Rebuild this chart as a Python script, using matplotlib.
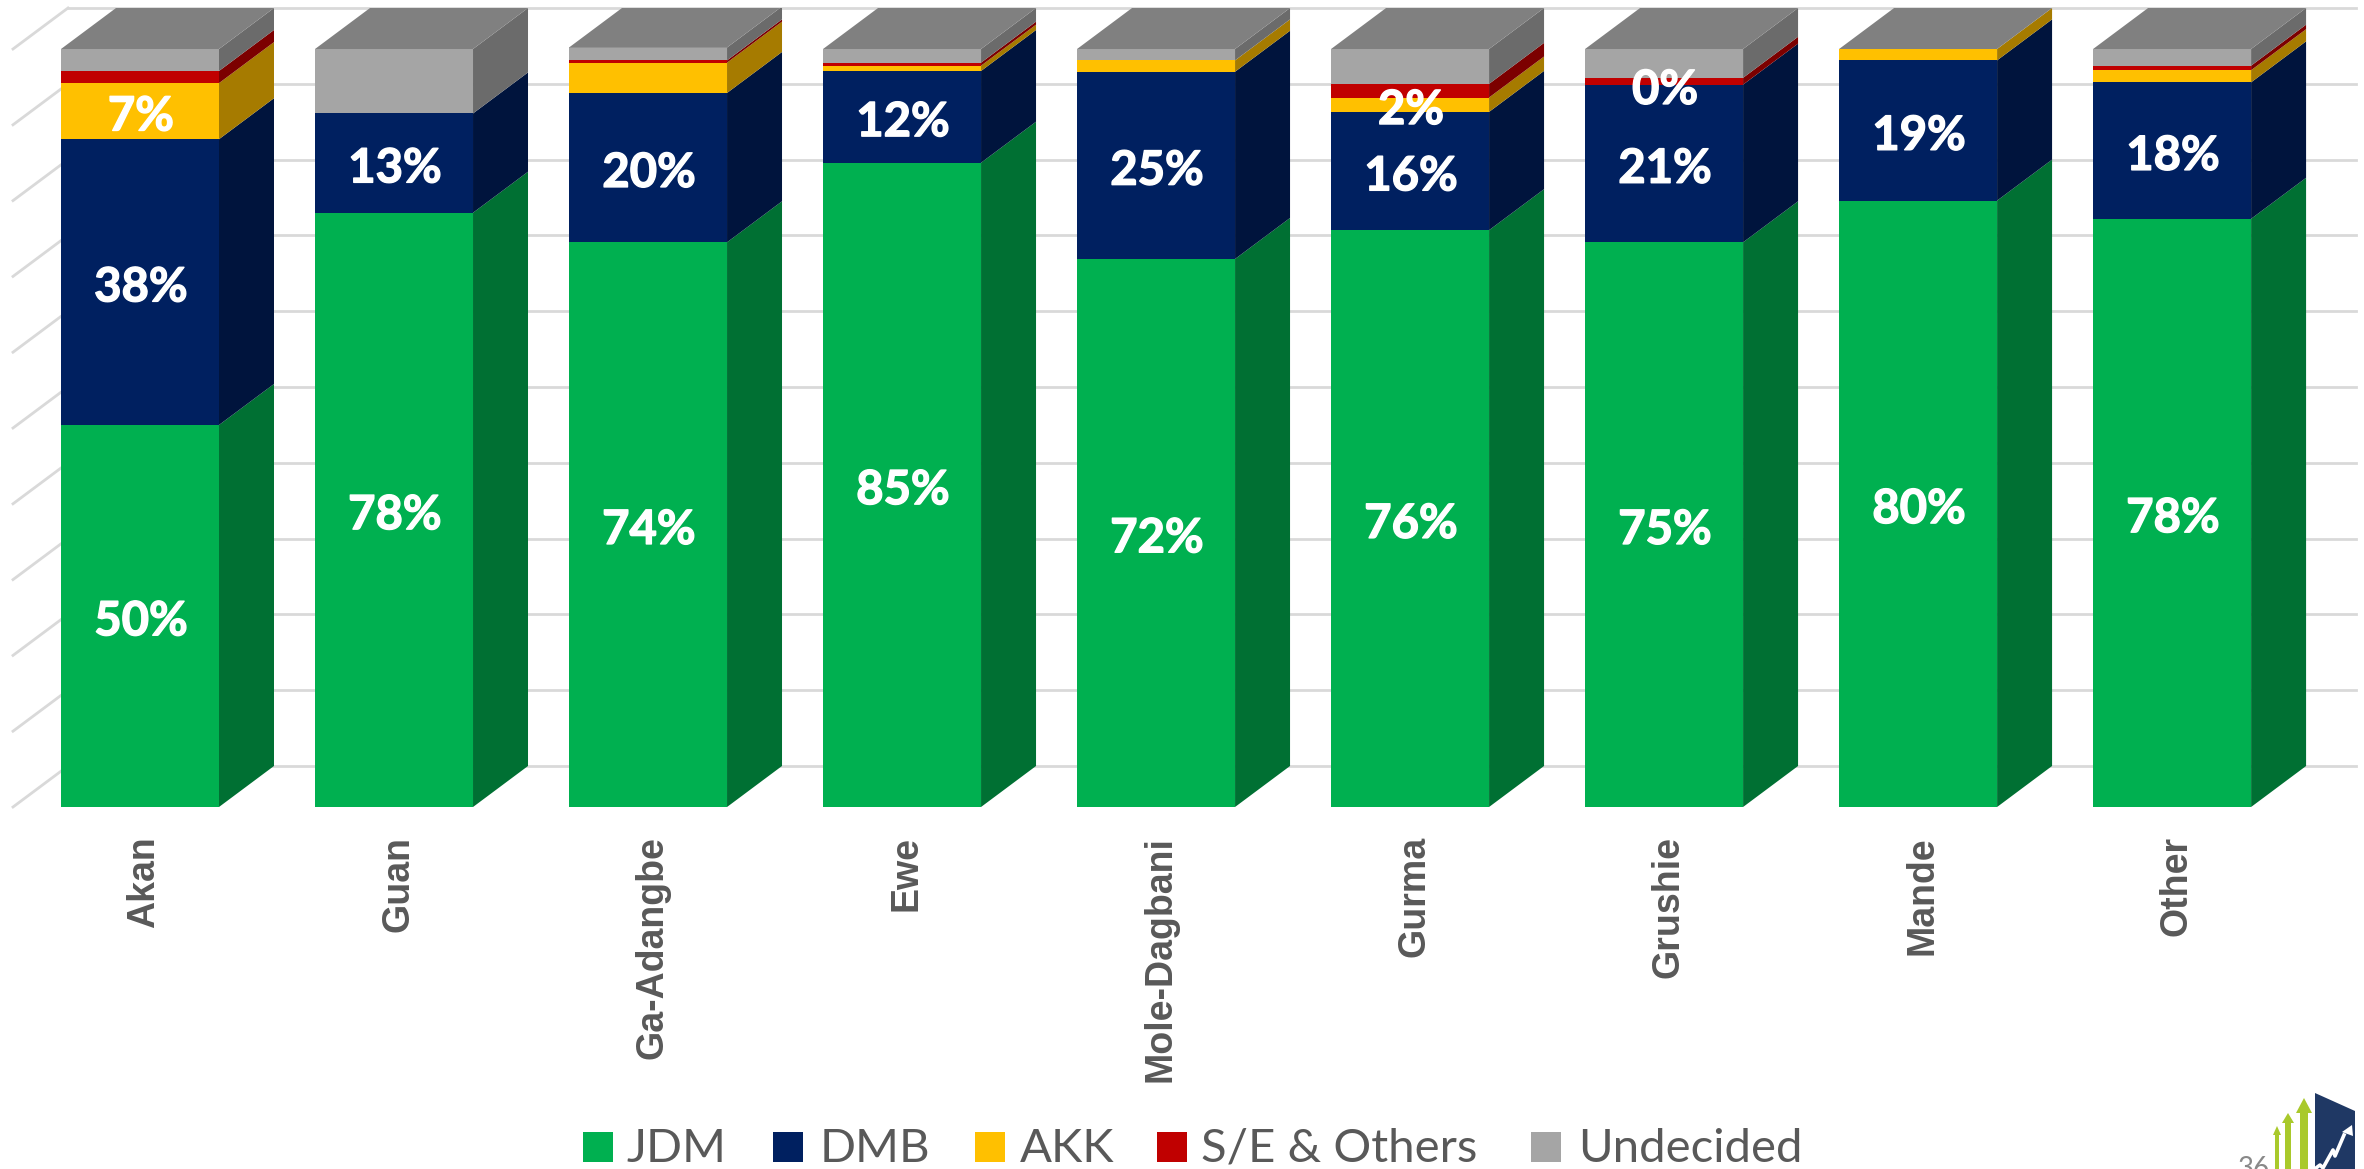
import matplotlib
matplotlib.use('Agg')
import matplotlib.pyplot as plt
import matplotlib.patheffects as pe
from matplotlib.patches import Polygon, Rectangle
from matplotlib.transforms import offset_copy

# Datos (porcentajes)
categorias = ['Akan', 'Guan', 'Ga-Adangbe', 'Ewe', 'Mole-Dagbani', 'Gurma', 'Grushie', 'Mande', 'Other']
jdm = [50.4, 78.4, 74.5, 85.0, 72.3, 76.1, 74.5, 80.0, 77.6]
dmb = [37.7, 13.1, 19.7, 12.1, 24.7, 15.6, 20.8, 18.5, 18.0]
akk = [7.4, 0.0, 4.0, 0.7, 1.5, 1.9, 0.0, 1.5, 1.6]
se = [1.6, 0.0, 0.3, 0.4, 0.0, 1.8, 0.9, 0.0, 0.6]
undecided = [2.9, 8.5, 1.7, 1.8, 1.5, 4.6, 3.8, 0.0, 2.2]

etiquetas_jdm = ['50%', '78%', '74%', '85%', '72%', '76%', '75%', '80%', '78%']
etiquetas_dmb = ['38%', '13%', '20%', '12%', '25%', '16%', '21%', '19%', '18%']
etiquetas_akk = ['7%', '', '', '', '', '2%', '0%', '', '']

nombres = ['JDM', 'DMB', 'AKK', 'S/E & Others', 'Undecided']
series = [jdm, dmb, akk, se, undecided]
etiquetas = [etiquetas_jdm, etiquetas_dmb, etiquetas_akk, None, None]
colores = ['#00B050', '#002060', '#FFC000', '#C00000', '#A5A5A5']
colores_lado = ['#007033', '#00143D', '#A67B00', '#7C0000', '#6B6B6B']
color_tapa = '#808080'
grid_vals = [0, 10, 20, 30, 40, 50, 60, 70, 80, 90, 100]

# Efecto 3D: profundidad en unidades de datos
ancho = 0.622
dx = 0.2165
dy = 5.41

W, H = 2364, 1169
fig = plt.figure(figsize=(W / 100, H / 100), dpi=100, facecolor='white')
ax = fig.add_axes([13 / W, 1 - 807 / H, (2356 - 13) / W, (807 - 8) / H])
ax.set_xlim(-0.5, 8.724)
ax.set_ylim(0, 105.41)
for s in ax.spines.values():
    s.set_visible(False)
ax.set_yticks([])

# Rejilla: pared del fondo y pared izquierda
for g in grid_vals:
    ax.plot([-0.5 + dx, 8.724], [g + dy, g + dy], color='#D9D9D9', lw=2, zorder=1, clip_on=False)
    ax.plot([-0.5, -0.5 + dx], [g, g + dy], color='#D9D9D9', lw=2, zorder=1, clip_on=False)

# Barras apiladas con cara lateral y tapa
base = [0.0] * len(categorias)
for k, vals in enumerate(series):
    for i, v in enumerate(vals):
        y0 = base[i]
        x1 = i + ancho / 2
        if v > 0:
            ax.bar(i, v, ancho, bottom=y0, color=colores[k], zorder=3)
            ax.add_patch(Polygon([(x1, y0), (x1 + dx, y0 + dy), (x1 + dx, y0 + v + dy), (x1, y0 + v)],
                                 closed=True, fc=colores_lado[k], ec='none', zorder=2))
        if etiquetas[k] is not None and etiquetas[k][i]:
            ax.text(i + 0.004, y0 + v / 2 - 0.7, etiquetas[k][i], ha='center', va='center', color='white',
                    fontsize=34, fontweight='bold', family='Lato', zorder=5,
                    path_effects=[pe.withStroke(linewidth=1, foreground='white')])
        base[i] = y0 + v

for i, tope in enumerate(base):
    x0, x1 = i - ancho / 2, i + ancho / 2
    ax.add_patch(Polygon([(x0, tope), (x1, tope), (x1 + dx, tope + dy), (x0 + dx, tope + dy)],
                         closed=True, fc=color_tapa, ec='none', zorder=4))

ax.set_xticks(range(len(categorias)))
ax.set_xticklabels(categorias, rotation=90, fontsize=27, fontweight='bold',
                   family='Liberation Sans', color='#595959', va='top', ha='center')
ax.tick_params(axis='x', length=0, pad=21)
for lab in ax.get_xticklabels():
    lab.set_transform(offset_copy(lab.get_transform(), fig=fig, x=4, y=0, units='dots'))


# Logo y numero de pagina, en pixeles de la imagen
def px(puntos):
    return [(x / W, 1 - y / H) for x, y in puntos]


# Leyenda
cuadros_x = [583, 773, 975, 1157, 1531]
textos_x = [626, 820, 1020, 1201, 1578]
for c, n, xc, xt in zip(colores, nombres, cuadros_x, textos_x):
    fig.patches.append(Rectangle((xc / W, 1 - 1162 / H), 30 / W, 30 / H, fc=c, ec='none', transform=fig.transFigure))
    fig.text(xt / W, 1 - 1162 / H, n, ha='left', va='baseline', fontsize=34, family='Lato', color='#595959')

fig.patches.append(Polygon(px([(2315, 1093), (2355, 1111), (2355, 1169), (2315, 1169)]), closed=True,
                           fc='#1F3864', ec='none', transform=fig.transFigure))
flechas = [(2304, 1098, 1113, 4, 8), (2288, 1113, 1123, 3, 6), (2277, 1126, 1135, 2, 4)]
for xc, tip, cuello, m, c in flechas:
    puntos = [(xc, tip), (xc + c, cuello), (xc + m, cuello), (xc + m, 1169), (xc - m, 1169), (xc - m, cuello), (xc - c, cuello)]
    fig.patches.append(Polygon(px(puntos), closed=True, fc='#A9C92B', ec='none', transform=fig.transFigure))
zigzag = [(2316, 1168), (2320, 1165), (2323, 1168), (2333, 1150), (2335, 1156), (2344, 1135)]
fig.add_artist(plt.Line2D([p[0] for p in px(zigzag)], [p[1] for p in px(zigzag)], color='white', lw=2.6,
                          transform=fig.transFigure))
fig.patches.append(Polygon(px([(2352, 1125), (2353, 1136), (2342, 1132)]), closed=True, fc='white', ec='none',
                           transform=fig.transFigure))
fig.text(2254 / W, 1 - 1156 / H, '36', ha='center', va='top', fontsize=20, family='Lato', color='#898989')

fig.savefig('out.png', dpi=100, facecolor='white')
